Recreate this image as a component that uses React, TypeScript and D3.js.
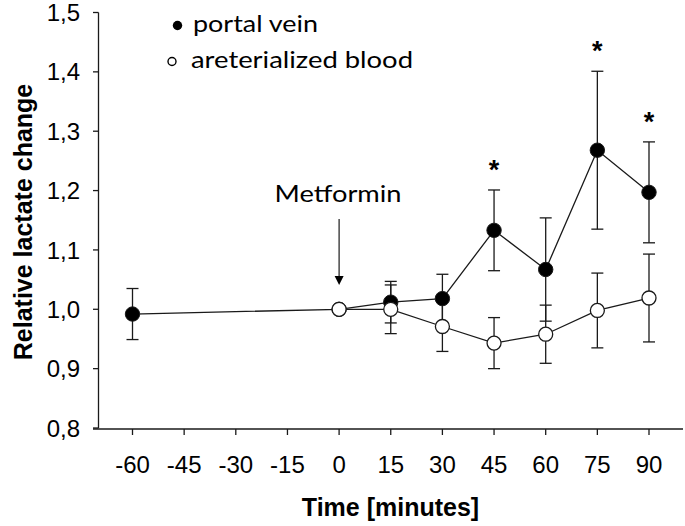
import React from 'react';
import * as d3 from 'd3';

// time points (minutes) and relative lactate values
const minutes = [-60, 0, 15, 30, 45, 60, 75, 90];
const portalVein = [0.992, 1.0, 1.012, 1.018, 1.133, 1.067, 1.268, 1.197];
const portalErr = [0.043, 0, 0.035, 0.041, 0.068, 0.087, 0.133, 0.085];

const arterialMinutes = [0, 15, 30, 45, 60, 75, 90];
const arterialized = [1.0, 1.0, 0.971, 0.943, 0.958, 0.998, 1.019];
const arterialErr = [0, 0.041, 0.042, 0.043, 0.049, 0.063, 0.074];

const significant = [45, 75, 90];

const xTicks = [-60, -45, -30, -15, 0, 15, 30, 45, 60, 75, 90];
const yTicks = [0.8, 0.9, 1.0, 1.1, 1.2, 1.3, 1.4, 1.5];

const W = 685;
const H = 526;
const ink = '#1a1a1a';
const arial = '"Liberation Sans", Arial, sans-serif';
const calibri = 'Lato, "Open Sans", sans-serif';

const fmt = d3.formatLocale({ decimal: ',', thousands: '.', grouping: [3], currency: ['', ''] }).format('.1f');

export default function App() {
  const x = d3.scaleLinear().domain([-60, 90]).range([132.5, 649]);
  const y = d3.scaleLinear().domain([0.8, 1.5]).range([428, 12.5]);

  const portal = minutes.map((m, i) => ({ m, v: portalVein[i], e: portalErr[i] }));
  const arterial = arterialMinutes.map((m, i) => ({ m, v: arterialized[i], e: arterialErr[i] }));

  const line = d3
    .line<{ m: number; v: number }>()
    .x(d => x(d.m))
    .y(d => y(d.v));

  const errorBars = (data: { m: number; v: number; e: number }[], key: string) =>
    data
      .filter(d => d.e > 0)
      .map(d => {
        const cx = x(d.m);
        const top = y(d.v + d.e);
        const bot = y(d.v - d.e);
        return (
          <g key={key + d.m} stroke={ink} strokeWidth={1.3}>
            <line x1={cx} x2={cx} y1={top} y2={bot} />
            <line x1={cx - 6} x2={cx + 6} y1={top} y2={top} />
            <line x1={cx - 6} x2={cx + 6} y1={bot} y2={bot} />
          </g>
        );
      });

  const arrowX = x(0);

  return (
    <svg width={W} height={H} style={{ position: 'absolute', left: 0, top: 0, background: '#fff' }}>
      {/* axes */}
      <line x1={98.5} x2={98.5} y1={y(1.5)} y2={y(0.8)} stroke={ink} strokeWidth={1.3} />
      <line x1={93} x2={683} y1={y(0.8) + 1} y2={y(0.8) + 1} stroke={ink} strokeWidth={1.3} />
      {yTicks.map(t => (
        <g key={'y' + t}>
          <line x1={93} x2={98.5} y1={y(t)} y2={y(t)} stroke={ink} strokeWidth={1.3} />
          <text x={80} y={y(t)} dy="0.36em" textAnchor="end" fontFamily={arial} fontSize={24} fill="#000">
            {fmt(t)}
          </text>
        </g>
      ))}
      {xTicks.map(t => (
        <g key={'x' + t}>
          <line x1={x(t)} x2={x(t)} y1={y(0.8) + 1} y2={y(0.8) + 7} stroke={ink} strokeWidth={1.3} />
          <text x={x(t)} y={472.5} textAnchor="middle" fontFamily={arial} fontSize={24} fill="#000">
            {t}
          </text>
        </g>
      ))}
      <text
        transform="translate(31.5,222) rotate(-90)"
        textAnchor="middle"
        fontFamily={arial}
        fontWeight="bold"
        fontSize={25}
        fill="#000"
      >
        Relative lactate change
      </text>
      <text x={390.5} y={516} textAnchor="middle" fontFamily={arial} fontWeight="bold" fontSize={25} fill="#000">
        Time [minutes]
      </text>

      {/* series lines */}
      <path d={line(portal) || ''} fill="none" stroke={ink} strokeWidth={1.3} />
      <path d={line(arterial) || ''} fill="none" stroke={ink} strokeWidth={1.3} />

      {errorBars(portal, 'p')}
      {errorBars(arterial, 'a')}

      {portal.map(d => (
        <circle key={'pc' + d.m} cx={x(d.m)} cy={y(d.v)} r={7.2} fill="#000" stroke={ink} strokeWidth={1} />
      ))}
      {arterial.map(d => (
        <circle key={'ac' + d.m} cx={x(d.m)} cy={y(d.v)} r={7} fill="#fff" stroke={ink} strokeWidth={1.3} />
      ))}

      {/* significance marks */}
      {significant.map(m => {
        const i = minutes.indexOf(m);
        const cy = y(portalVein[i] + portalErr[i]) - 26;
        return (
          <text key={'s' + m} x={x(m)} y={cy + 15} textAnchor="middle" fontFamily={arial} fontWeight="bold" fontSize={27} fill="#000">
            *
          </text>
        );
      })}

      {/* Metformin annotation */}
      <text x={338} y={201.5} textAnchor="middle" fontFamily={calibri} fontSize={24} textLength={127} lengthAdjust="spacingAndGlyphs" fill="#000">
        Metformin
      </text>
      <line x1={arrowX} x2={arrowX} y1={219} y2={278} stroke={ink} strokeWidth={1.2} />
      <path d={`M${arrowX - 4.5},${276} L${arrowX + 4.5},${276} L${arrowX},${285} Z`} fill="#000" />

      {/* legend */}
      <circle cx={177.5} cy={25.5} r={4.7} fill="#000" />
      <text x={193} y={31.5} fontFamily={calibri} fontSize={23} textLength={125} lengthAdjust="spacingAndGlyphs" fill="#000">
        portal vein
      </text>
      <circle cx={172} cy={61.5} r={4} fill="#fff" stroke="#000" strokeWidth={1.4} />
      <text x={191} y={68} fontFamily={calibri} fontSize={23} textLength={222} lengthAdjust="spacingAndGlyphs" fill="#000">
        areterialized blood
      </text>
    </svg>
  );
}
